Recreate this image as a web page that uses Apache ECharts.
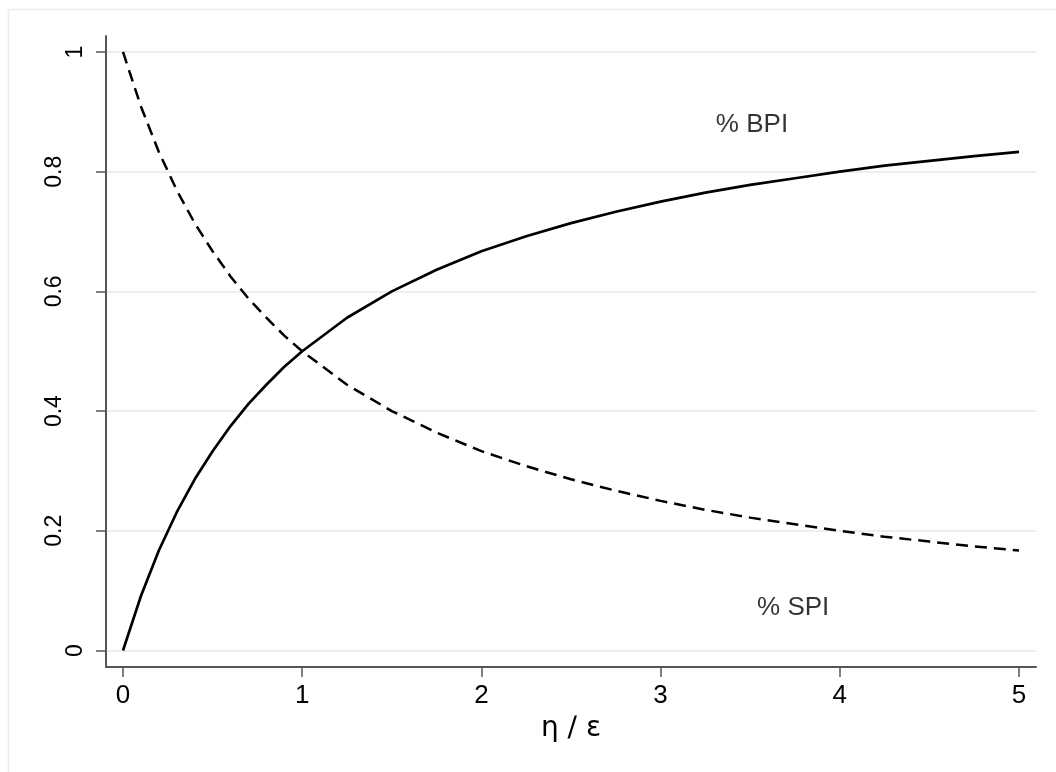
<!DOCTYPE html>
<html><head><meta charset="utf-8">
<script src="https://cdn.jsdelivr.net/npm/echarts@6/dist/echarts.min.js"></script>
<style>html,body{margin:0;padding:0;background:#fff}#c{width:1056px;height:772px}</style>
</head><body><div id="c"></div>
<script>
// eta/epsilon values (x axis)
const xValues = [0, 0.1, 0.2, 0.3, 0.4, 0.5, 0.6, 0.7, 0.8, 0.9, 1.0, 1.25, 1.5, 1.75, 2.0, 2.25, 2.5, 2.75, 3.0, 3.25, 3.5, 3.75, 4.0, 4.25, 4.5, 4.75, 5.0];
// % BPI (solid)
const bpiValues = [0, 0.091, 0.167, 0.231, 0.286, 0.333, 0.375, 0.412, 0.444, 0.474, 0.5, 0.556, 0.6, 0.636, 0.667, 0.692, 0.714, 0.733, 0.75, 0.765, 0.778, 0.789, 0.8, 0.81, 0.818, 0.826, 0.833];
// % SPI (dashed)
const spiValues = [1, 0.909, 0.833, 0.769, 0.714, 0.667, 0.625, 0.588, 0.556, 0.526, 0.5, 0.444, 0.4, 0.364, 0.333, 0.308, 0.286, 0.267, 0.25, 0.235, 0.222, 0.211, 0.2, 0.19, 0.182, 0.174, 0.167];
const xTicks = [0, 1, 2, 3, 4, 5];
const yTicks = [0, 0.2, 0.4, 0.6, 0.8, 1];
const xAxisTitle = 'η ∕ ε';
const curveLabels = ['% BPI', '% SPI'];
const curveLabelX = [3.51, 3.74];
const curveLabelY = [0.878, 0.072];

const FONT = 'Liberation Sans, Arial, DejaVu Sans, sans-serif';
const AXIS_COLOR = '#555555';
const GRID_COLOR = '#e9f0f2';

const chart = echarts.init(document.getElementById('c'), null, {renderer: 'canvas'});
chart.setOption({
  animation: false,
  backgroundColor: '#ffffff',
  graphic: [{
    type: 'rect', left: 6, top: 7, silent: true, z: -10,
    shape: {width: 1100, height: 820},
    style: {fill: 'none', stroke: '#e6eef0', lineWidth: 1.5}
  }],
  grid: {left: 106, right: 20, top: 36, bottom: 105, containLabel: false},
  xAxis: {
    type: 'value', min: -0.0949, max: 5.0949,
    name: xAxisTitle, nameLocation: 'middle', nameGap: 48,
    nameTextStyle: {fontFamily: 'DejaVu Sans, Liberation Sans, sans-serif', fontSize: 28, color: '#000'},
    axisLine: {show: true, onZero: false, lineStyle: {color: AXIS_COLOR, width: 2}},
    axisTick: {show: true, length: 10, customValues: xTicks, lineStyle: {color: AXIS_COLOR, width: 1.5}},
    axisLabel: {customValues: xTicks, margin: 16, fontFamily: FONT, fontSize: 26, color: '#000'},
    splitLine: {show: false}
  },
  yAxis: {
    type: 'value', min: -0.0276, max: 1.0267,
    axisLine: {show: true, onZero: false, lineStyle: {color: AXIS_COLOR, width: 2}},
    axisTick: {show: true, length: 10, customValues: yTicks, lineStyle: {color: AXIS_COLOR, width: 1.5}},
    axisLabel: {
      customValues: yTicks, rotate: 90, margin: 19, color: '#000',
      formatter: v => (String(v).length > 1 ? '{l|' + v + '}' : '{s|' + v + '}'),
      rich: {
        l: {fontFamily: FONT, fontSize: 23, color: '#000', padding: [0, 0, 21, 0]},
        s: {fontFamily: FONT, fontSize: 23, color: '#000'}
      }
    },
    splitLine: {show: true, lineStyle: {color: GRID_COLOR, width: 2}}
  },
  series: [
    {
      type: 'line', name: curveLabels[0], showSymbol: false, smooth: false,
      data: xValues.map((x, i) => [x, bpiValues[i]]),
      lineStyle: {color: '#000', width: 2.7}, z: 5
    },
    {
      type: 'line', name: curveLabels[1], showSymbol: false, smooth: false,
      data: xValues.map((x, i) => [x, spiValues[i]]),
      lineStyle: {color: '#000', width: 2.5, type: [12, 7]}, z: 5
    },
    {
      type: 'scatter', symbolSize: 0, silent: true,
      data: curveLabels.map((n, i) => ({name: n, value: [curveLabelX[i], curveLabelY[i]]})),
      label: {show: true, position: 'inside', formatter: p => p.name, fontFamily: FONT, fontSize: 26, color: '#000'}
    }
  ]
});
</script>
</body></html>
